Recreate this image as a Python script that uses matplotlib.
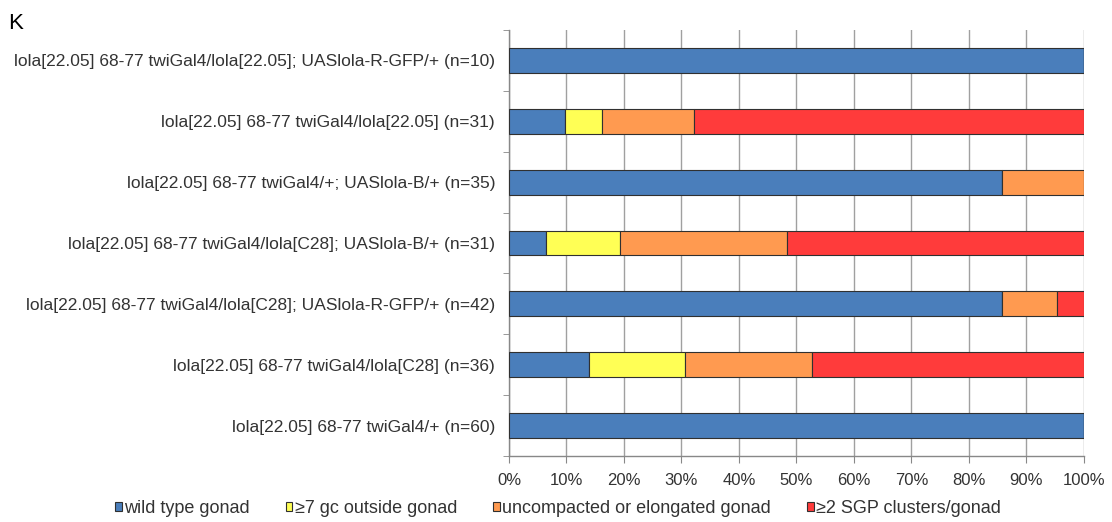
import matplotlib
matplotlib.use('Agg')
import matplotlib.pyplot as plt
import numpy as np

plt.rcParams['font.family'] = ['Liberation Sans', 'DejaVu Sans']

# genotypes, listed top to bottom as in the figure
genotypes = [
    'lola[22.05] 68-77 twiGal4/lola[22.05]; UASlola-R-GFP/+ (n=10)',
    'lola[22.05] 68-77 twiGal4/lola[22.05] (n=31)',
    'lola[22.05] 68-77 twiGal4/+; UASlola-B/+ (n=35)',
    'lola[22.05] 68-77 twiGal4/lola[C28]; UASlola-B/+ (n=31)',
    'lola[22.05] 68-77 twiGal4/lola[C28]; UASlola-R-GFP/+ (n=42)',
    'lola[22.05] 68-77 twiGal4/lola[C28] (n=36)',
    'lola[22.05] 68-77 twiGal4/+ (n=60)',
]
n_embryos = [10, 31, 35, 31, 42, 36, 60]

# counts per phenotype class
wild_type = [10, 3, 30, 2, 36, 5, 60]
gc_outside = [0, 2, 0, 4, 0, 6, 0]
uncompacted = [0, 5, 5, 9, 4, 8, 0]
sgp_clusters = [0, 21, 0, 16, 2, 17, 0]

categories = ['wild type gonad', '\u22657 gc outside gonad',
              'uncompacted or elongated gonad', '\u22652 SGP clusters/gonad']
colors = ['#4a7ebb', '#ffff55', '#ff9a50', '#ff3b3b']

n = np.array(n_embryos, dtype=float)
series = [np.array(s) / n * 100 for s in (wild_type, gc_outside, uncompacted, sgp_clusters)]

fig = plt.figure(figsize=(11.12, 5.22), dpi=100)
ax = fig.add_axes([0.4577, 0.1264, 0.5171, 0.8161])

y = np.arange(len(genotypes))
left = np.zeros(len(genotypes))
for vals, col, lab in zip(series, colors, categories):
    ax.barh(y, vals, left=left, height=0.41, color=col, edgecolor='#303030',
            linewidth=0.8, label=lab, zorder=3)
    left += vals

ax.set_xlim(0, 100)
ax.set_ylim(len(genotypes) - 0.5, -0.5)
ax.set_xticks(np.arange(0, 101, 10))
ax.set_xticklabels([f'{v}%' for v in range(0, 101, 10)], fontsize=12, color='#333333')
ax.xaxis.grid(True, color='#a0a0a0', linewidth=1.0, zorder=0)

ax.set_yticks(y)
ax.set_yticklabels(genotypes, fontsize=12.5, color='#333333')
ax.set_yticks(np.arange(-0.5, len(genotypes)), minor=True)
ax.tick_params(axis='y', which='major', length=0, pad=10)
ax.tick_params(axis='y', which='minor', length=4, color='#888888', direction='out')
ax.tick_params(axis='x', length=5, color='#888888', direction='out', pad=7)

for s in ('top', 'right'):
    ax.spines[s].set_visible(False)
for s in ('left', 'bottom'):
    ax.spines[s].set_color('#888888')
    ax.spines[s].set_linewidth(1.0)

fig.text(0.007, 0.955, 'K', fontsize=16, ha='left', va='center')

fig.legend(loc='center', bbox_to_anchor=(0.502, 0.026), ncol=4, frameon=False,
           fontsize=13, handlelength=0.35, handleheight=0.35, handletextpad=0.15,
           columnspacing=2.0, labelcolor='#333333')

fig.savefig('out.png', dpi=100)
